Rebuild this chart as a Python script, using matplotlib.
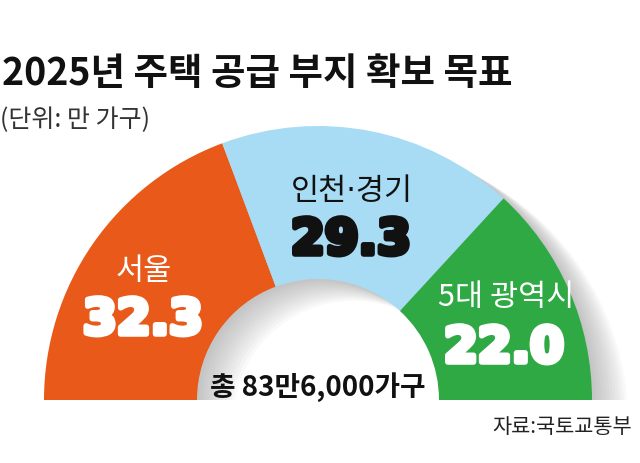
import matplotlib.pyplot as plt
from matplotlib.patches import Wedge, Rectangle
import matplotlib.patheffects as pe

plt.rcParams['font.family'] = ['Noto Sans CJK KR', 'DejaVu Sans']

# 데이터
regions = ['서울', '인천·경기', '5대 광역시']
values = [32.3, 29.3, 22.0]
colors = ['#E8591A', '#A8DCF4', '#2EA944']
name_colors = ['white', '#111111', 'white']
title = '2025년 주택 공급 부지 확보 목표'
unit = '(단위: 만 가구)'
total_text = '총 83만6,000가구'
source = '자료:국토교통부'

W, H = 640, 463
fig = plt.figure(figsize=(W / 100, H / 100), dpi=100)
ax = fig.add_axes([0, 0, 1, 1])


def Y(y):
    # 이미지 픽셀 좌표 -> 데이터 좌표
    return H - y


cx, cy = 318, Y(400)
r_out, r_in = 274, 121

# 그림자 (오른쪽 아래로 번지는 효과)
clip = Rectangle((0, cy), W, H, transform=ax.transData)
for k in range(12):
    dx = 3 + 3 * k
    dy = -(2 + 1.8 * k)
    sh = Wedge((cx + dx, cy + dy), r_out, 0, 180, width=r_out - r_in,
               facecolor='#8c8c8c', alpha=0.05, linewidth=0, zorder=1)
    ax.add_patch(sh)
    sh.set_clip_path(clip)

# 반원 도넛
wedges, _ = ax.pie(values + [sum(values)], colors=colors + ['none'],
                   startangle=180, counterclock=False, radius=r_out,
                   center=(cx, cy), frame=True,
                   wedgeprops=dict(width=r_out - r_in, linewidth=0))
wedges[-1].set_visible(False)
for w in wedges:
    w.set_zorder(2)

# 라벨
name_pos = [(144, 272), (352, 192), (506, 297)]
num_pos = [(143, 320), (351, 240), (504, 348)]
for name, val, c, (nx, ny), (vx, vy) in zip(regions, values, name_colors, name_pos, num_pos):
    fam = ['DejaVu Sans', 'Noto Sans CJK KR'] if '·' in name else None
    ax.text(nx, Y(ny), name, fontsize=22, color=c, ha='center', va='center',
            family=fam, zorder=3)
    ax.text(vx, Y(vy), f'{val:.1f}', fontsize=35, color=c, ha='center', va='center',
            family='DejaVu Sans', fontweight='bold', zorder=3,
            path_effects=[pe.withStroke(linewidth=4, foreground=c)])

ax.text(318, Y(387), total_text, fontsize=20, fontweight='bold', color='#111111',
        ha='center', va='center', zorder=3)

ax.text(2, Y(73), title, fontsize=27, fontweight='bold', color='#111111',
        ha='left', va='center')
ax.text(0, Y(120), unit, fontsize=18, fontweight='light', color='#333333',
        ha='left', va='center')
ax.text(632, Y(427), source, fontsize=15, color='#222222', ha='right', va='center')

ax.set_xlim(0, W)
ax.set_ylim(0, H)
ax.set_aspect('auto')
ax.axis('off')

fig.savefig('out.png', dpi=100)
